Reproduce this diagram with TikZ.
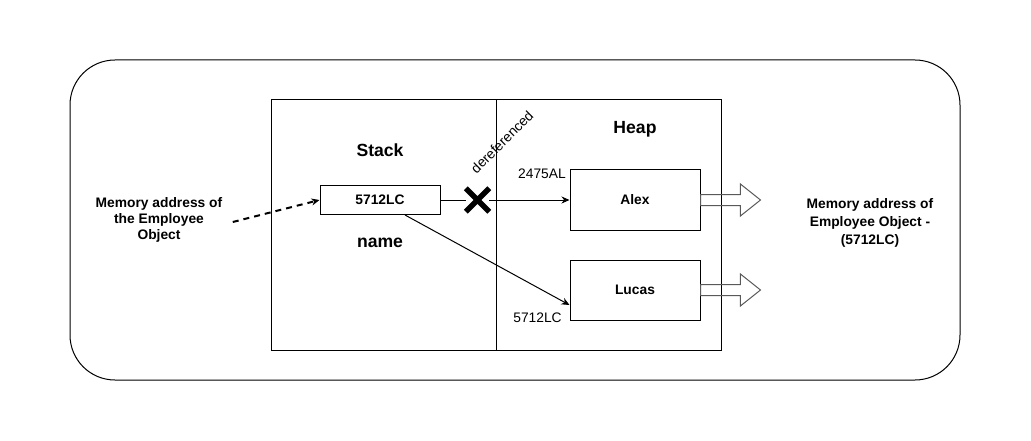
\documentclass[tikz,border=0pt]{standalone}
\usepackage{fontspec}
\setmainfont{Liberation Sans}
\usetikzlibrary{arrows.meta,shapes.misc,shapes.arrows}
\begin{document}
\begin{tikzpicture}[x=1pt, y=-1pt, line width=1pt,
        every node/.style = {font=\fontsize{13.8}{16}\selectfont, inner sep=0pt},
        region/.style = {draw, minimum width=225pt, minimum height=250pt},
        cell/.style = {draw, minimum width=130pt, minimum height=60pt, font=\fontsize{13.8}{16}\selectfont\bfseries},
        title/.style = {font=\fontsize{17.6}{20}\selectfont\bfseries},
        note/.style = {align=center, font=\fontsize{13.8}{16}\selectfont\bfseries},
        link/.style = {-{Stealth[length=8pt,width=7pt]}},
        hollow/.style = {single arrow, draw=black!65, anchor=tail, minimum height=60pt, minimum width=31pt,
            single arrow head extend=10.5pt, single arrow tip angle=77, inner xsep=0pt, inner ysep=5pt, outer sep=0pt}]
    \useasboundingbox (0,0) rectangle (1031,441);
    \node[draw, rounded corners=45pt, minimum width=890pt, minimum height=320pt] (frame) at (515,220) {};
    % stack and heap
    \node[region] (stack) at (383.5,225) {};
    \node[region] (heap) at (608.5,225) {};
    \node[title] (stacktitle) at (380,150) {Stack};
    \node[title] (heaptitle) at (635,129) {Heap};
    \node[title] (varname) at (380,243) {name};
    \node[cell, minimum width=120pt, minimum height=29pt] (stackval) at (380,200) {5712LC};
    \node[cell] (alex) at (635,200) {Alex};
    \node[cell] (lucas) at (635,290) {Lucas};
    \node (alexaddr) at (542,174) {2475AL};
    \node (lucasaddr) at (537.5,318) {5712LC};
    \node[rotate=45] (deref) at (502,142) {dereferenced};
    \node[draw, cross out, line width=5.5pt, minimum size=18pt] (cross) at (477.5,200) {};
    % side notes
    \node[note] (leftnote) at (159,220) {Memory address of\\the Employee\\Object};
    \node[note, font=\fontsize{13.8}{18}\selectfont\bfseries] (rightnote) at (870,223) {Memory address of\\Employee Object -\\(5712LC)};
    % connectors
    \draw (stackval.east) -- (cross);
    \draw[link] (cross) -- (alex.west);
    \draw[link] ([xshift=25pt]stackval.south) -- ([yshift=-15pt]lucas.west);
    \draw[link, line width=2pt, dash pattern=on 6pt off 5pt] ([xshift=10pt,yshift=-2pt]leftnote.east) -- (stackval.west);
    \node[hollow] (alexout) at (alex.east) {};
    \node[hollow] (lucasout) at (lucas.east) {};
\end{tikzpicture}
\end{document}
